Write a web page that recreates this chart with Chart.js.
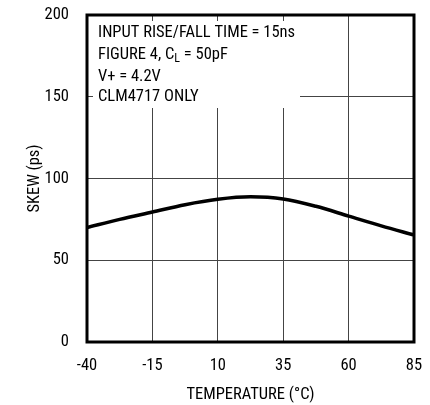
<!DOCTYPE html>
<html>
<head>
<meta charset="utf-8">
<script src="https://cdn.jsdelivr.net/npm/chart.js@4"></script>
<style>
  html, body { margin: 0; padding: 0; background: #fff; }
  #wrap { width: 430px; height: 405px; }
</style>
</head>
<body>
<div id="wrap"><canvas id="skewChart" width="430" height="405"></canvas></div>
<script>
const temps = [-40, -27.5, -15, -2.5, 10, 22.5, 35, 47.5, 60, 72.5, 85];
const skew = [70, 75, 79.5, 84, 87.3, 88.8, 87.5, 83, 77, 71, 65.5];
const xTicks = [-40, -15, 10, 35, 60, 85];
const yTicks = [0, 50, 100, 150, 200];
const noteLines = ['INPUT RISE/FALL TIME = 15ns', 'FIGURE 4, C', 'V+ = 4.2V', 'CLM4717 ONLY'];

const FONT = '"Roboto Condensed", "Liberation Sans", Arial, sans-serif';

// blank out grid behind the note, then draw the note and heavy frame
const notePlugin = {
  id: 'note',
  beforeDatasetsDraw(chart) {
    const { ctx, chartArea: a } = chart;
    ctx.save();
    ctx.fillStyle = '#fff';
    ctx.fillRect(a.left + 6, a.top + 6, 300 - a.left - 6, 108 - a.top - 6);
    ctx.restore();
  },
  afterDraw(chart) {
    const { ctx, chartArea: a } = chart;
    ctx.save();
    ctx.fillStyle = '#000';
    ctx.font = '16.5px ' + FONT;
    ctx.textBaseline = 'middle';
    const x = 98;
    const ys = [33, 55, 77, 97];
    ctx.fillText(noteLines[0], x, ys[0]);
    ctx.fillText(noteLines[1], x, ys[1]);
    let w = ctx.measureText(noteLines[1]).width;
    ctx.font = '12px ' + FONT;
    ctx.fillText('L', x + w, ys[1] + 4);
    w += ctx.measureText('L').width;
    ctx.font = '16.5px ' + FONT;
    ctx.fillText(' = 50pF', x + w, ys[1]);
    ctx.fillText(noteLines[2], x, ys[2]);
    ctx.fillText(noteLines[3], x, ys[3]);
    ctx.lineWidth = 3;
    ctx.strokeStyle = '#000';
    ctx.strokeRect(a.left, a.top, a.right - a.left, a.bottom - a.top);
    ctx.restore();
  }
};

new Chart(document.getElementById('skewChart').getContext('2d'), {
  type: 'line',
  data: {
    datasets: [{
      data: temps.map((t, i) => ({ x: t, y: skew[i] })),
      borderColor: '#000',
      borderWidth: 3.5,
      pointRadius: 0,
      cubicInterpolationMode: 'monotone',
      fill: false
    }]
  },
  options: {
    responsive: false,
    animation: false,
    layout: { autoPadding: false, padding: { left: 0, right: 16, top: 15, bottom: 0 } },
    plugins: { legend: { display: false }, tooltip: { enabled: false } },
    scales: {
      x: {
        type: 'linear',
        min: -40,
        max: 85,
        afterBuildTicks: s => { s.ticks = xTicks.map(v => ({ value: v })); },
        afterFit: s => { s.height = 405 - 342; s.paddingLeft = 0; s.paddingRight = 0; },
        grid: { color: '#444', lineWidth: 1, drawTicks: false },
        border: { display: false },
        ticks: { color: '#000', font: { family: FONT, size: 16.5 }, padding: 14, maxRotation: 0 },
        title: { display: true, text: 'TEMPERATURE (°C)', color: '#000', font: { family: FONT, size: 16.5 }, padding: { top: 4, bottom: 0 } }
      },
      y: {
        min: 0,
        max: 200,
        afterBuildTicks: s => { s.ticks = yTicks.map(v => ({ value: v })); },
        afterFit: s => { s.width = 87; s.paddingTop = 0; s.paddingBottom = 0; },
        grid: { color: '#444', lineWidth: 1, drawTicks: false },
        border: { display: false },
        ticks: { color: '#000', font: { family: FONT, size: 16.5 }, padding: 18 },
        title: { display: true, text: 'SKEW (ps)', color: '#000', font: { family: FONT, size: 16.5 }, padding: { top: 25, bottom: 0 } }
      }
    }
  },
  plugins: [notePlugin]
});
</script>
</body>
</html>
